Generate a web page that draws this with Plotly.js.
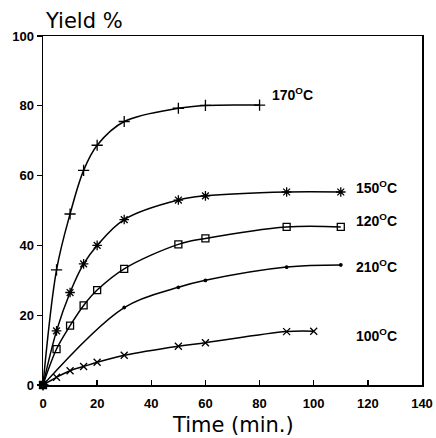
<!DOCTYPE html>
<html><head><meta charset="utf-8">
<script src="https://cdn.plot.ly/plotly-3.0.1.min.js"></script>
<style>html,body{margin:0;padding:0;background:#fff;}#chart{width:436px;height:438px;}</style>
</head><body><div id="chart"></div>
<script>
// Data
const time170 = [0, 5, 10, 15, 20, 30, 50, 60, 80];
const yield170 = [0, 33, 49, 61.5, 68.7, 75.5, 79.3, 80.1, 80.2];
const time150 = [0, 5, 10, 15, 20, 30, 50, 60, 90, 110];
const yield150 = [0, 15.5, 26.5, 34.7, 40, 47.4, 53, 54.2, 55.3, 55.3];
const time120 = [0, 5, 10, 15, 20, 30, 50, 60, 90, 110];
const yield120 = [0, 10.3, 17, 22.8, 27.2, 33.3, 40.3, 42, 45.3, 45.3];
const time210 = [0, 30, 50, 60, 90, 110];
const yield210 = [0, 22.2, 28, 30, 33.8, 34.4];
const time100 = [0, 5, 10, 15, 20, 30, 50, 60, 90, 100];
const yield100 = [0, 2.2, 4.1, 5.3, 6.5, 8.5, 11.1, 12.1, 15.3, 15.4];

const labels = ["170<sup>O</sup>C", "150<sup>O</sup>C", "120<sup>O</sup>C", "210<sup>O</sup>C", "100<sup>O</sup>C"];
const labelX = [84, 115, 115, 115, 115];
const labelY = [83.5, 56.8, 47.2, 34.2, 14.2];

const xTicks = [0, 20, 40, 60, 80, 100, 120, 140];
const yTicks = [0, 20, 40, 60, 80, 100];

const yTitle = 'Yield %';
const xTitle = 'Time (min.)';

function tr(x, y, sym, size) {
  return {
    x: x, y: y, type: 'scatter', mode: 'lines+markers',
    line: {color: '#000', width: 1.5, shape: 'spline', smoothing: 1},
    marker: {symbol: sym, size: size, color: '#000', line: {color: '#000', width: 1.3}},
    cliponaxis: false, showlegend: false
  };
}
const data = [
  tr(time170, yield170, 'cross-thin-open', 8),
  tr(time150, yield150, 'asterisk-open', 8),
  tr(time120, yield120, 'square-open', 7),
  tr(time210, yield210, 'circle', 2.5),
  tr(time100, yield100, 'x-thin-open', 7),
  {x: [0], y: [0], type: 'scatter', mode: 'markers', marker: {symbol: 'circle', size: 7, color: '#000'}, cliponaxis: false, showlegend: false}
];

const font = {family: 'Liberation Sans, Arial, sans-serif', color: '#000'};
const titleFont = {family: 'DejaVu Sans, sans-serif', color: '#000', size: 21};
const annotations = labels.map((t, i) => ({
  x: labelX[i], y: labelY[i], text: t, showarrow: false, xanchor: 'left', yanchor: 'middle',
  font: Object.assign({}, font, {size: 14, weight: 'bold'})
}));
annotations.push({
  xref: 'paper', yref: 'paper', x: 0, y: 1.043, xanchor: 'left', yanchor: 'middle',
  text: yTitle, showarrow: false, font: titleFont
});
annotations.push({
  xref: 'paper', yref: 'paper', x: 0.5, y: -0.115, xanchor: 'center', yanchor: 'middle',
  text: xTitle, showarrow: false, font: titleFont
});

const layout = {
  width: 436, height: 438,
  margin: {l: 43, r: 14, t: 36, b: 53},
  paper_bgcolor: '#fff', plot_bgcolor: '#fff',
  font: font,
  showlegend: false,
  xaxis: {
    range: [0, 140], tickvals: xTicks, ticktext: xTicks.map(String),
    ticks: 'inside', ticklen: 5, tickwidth: 1.3, tickcolor: '#000',
    showline: true, linewidth: 1.5, linecolor: '#000', mirror: true,
    showgrid: false, zeroline: false, ticklabelstandoff: 6,
    tickfont: Object.assign({}, font, {size: 13, weight: 'bold'})
  },
  yaxis: {
    range: [0, 100], tickvals: yTicks, ticktext: yTicks.map(String),
    ticks: 'outside', ticklen: 5, tickwidth: 1.3, tickcolor: '#000',
    showline: true, linewidth: 1.5, linecolor: '#000', mirror: true,
    showgrid: false, zeroline: false,
    tickfont: Object.assign({}, font, {size: 13, weight: 'bold'})
  },
  annotations: annotations
};
Plotly.newPlot('chart', data, layout, {displayModeBar: false, staticPlot: true});
</script>
</body></html>
